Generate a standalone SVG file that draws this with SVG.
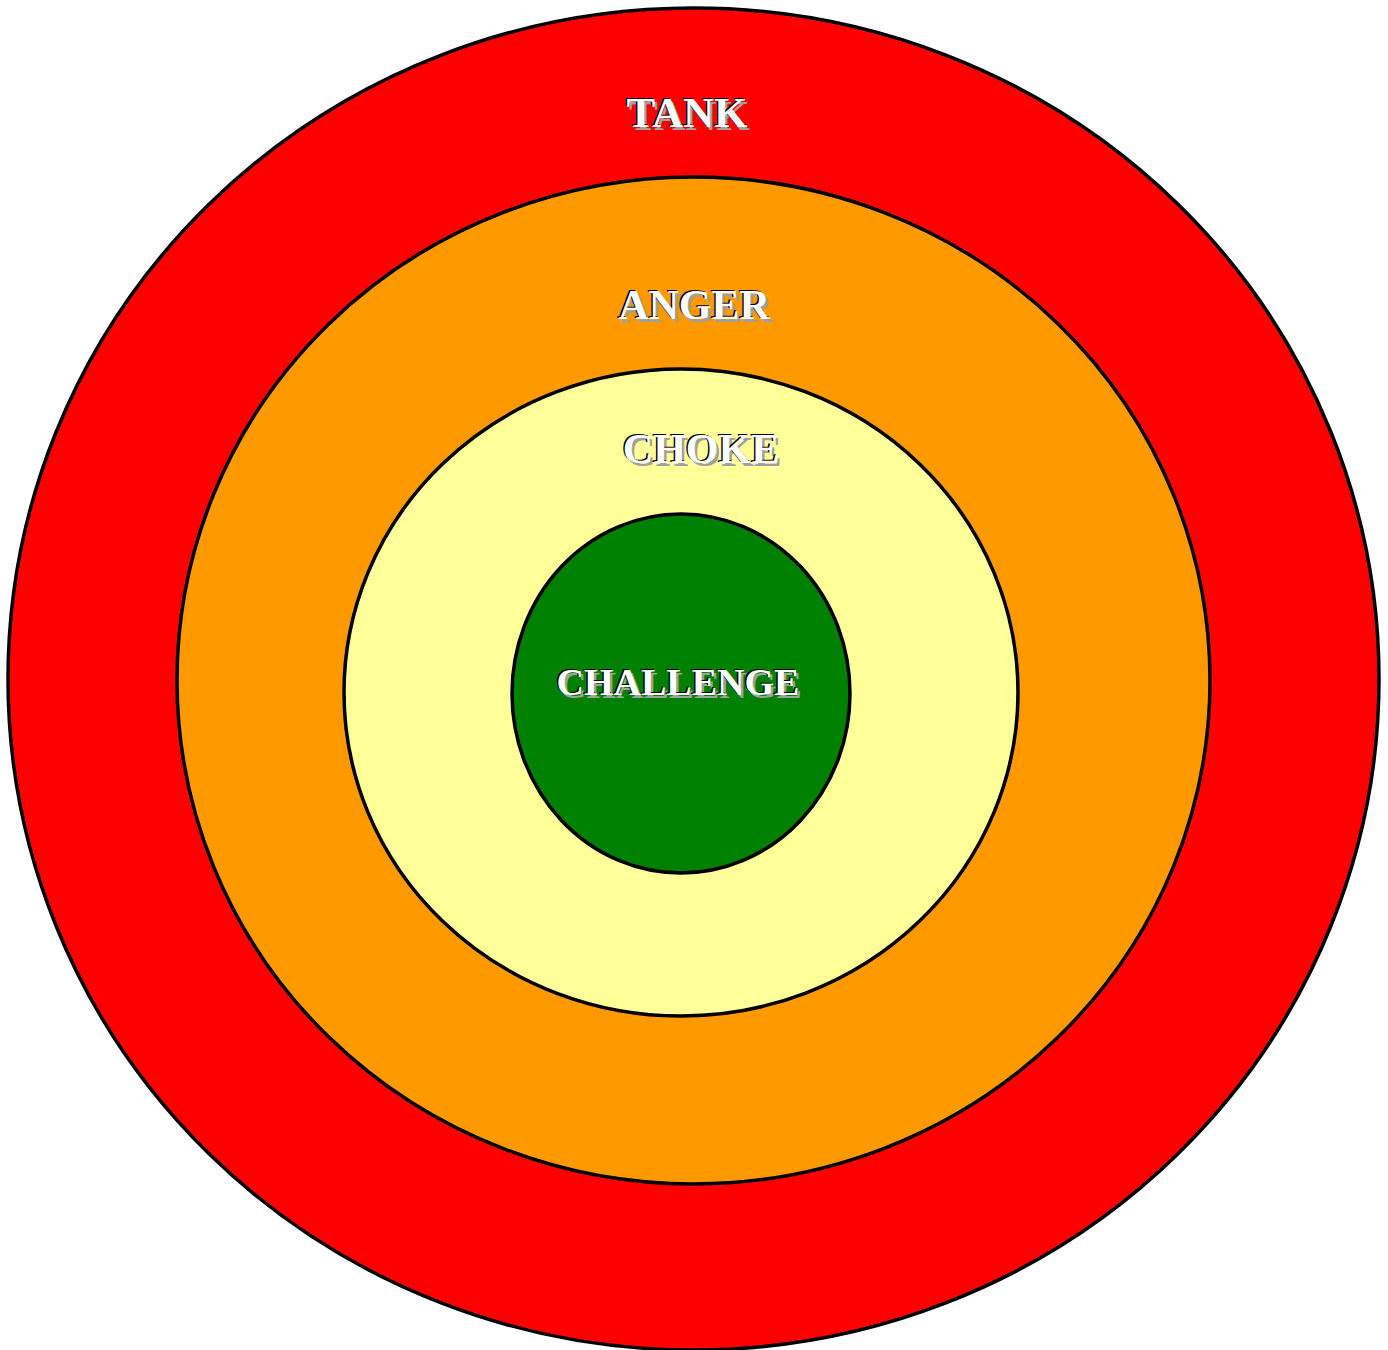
<svg xmlns="http://www.w3.org/2000/svg" width="1388" height="1350" viewBox="0 0 1388 1350">
<style>
.ring{stroke:#000;stroke-width:3.5}
.t{font-family:"Liberation Serif","Times New Roman",serif;font-weight:bold;text-anchor:middle}
.sh1{fill:#000}
.sh2{fill:#a0a0a0}
.fg{fill:#fff}
</style>
<rect width="1388" height="1350" fill="#fff"/>
<g id="tank">
<ellipse class="ring" cx="693.5" cy="679" rx="685.5" ry="671" fill="#ff0000"/>
<text class="t sh2" x="689.5" y="129.5" font-size="43">TANK</text>
<text class="t sh1" x="685.5" y="125.5" font-size="43">TANK</text>
<text class="t fg" x="687" y="127" font-size="43">TANK</text>
</g>
<g id="anger">
<ellipse class="ring" cx="693.5" cy="680.5" rx="516.5" ry="503.5" fill="#ff9900"/>
<text class="t sh2" x="696.5" y="321.5" font-size="42">ANGER</text>
<text class="t sh1" x="692.5" y="317.5" font-size="42">ANGER</text>
<text class="t fg" x="694" y="319" font-size="42">ANGER</text>
</g>
<g id="choke">
<ellipse class="ring" cx="681" cy="692.5" rx="337" ry="323.5" fill="#ffff99"/>
<text class="t sh2" x="703.5" y="465.5" font-size="42">CHOKE</text>
<text class="t sh1" x="699.5" y="461.5" font-size="42">CHOKE</text>
<text class="t fg" x="701" y="463" font-size="42">CHOKE</text>
</g>
<g id="challenge">
<ellipse class="ring" cx="681" cy="693.5" rx="169" ry="179.5" fill="#008000"/>
<text class="t sh2" x="680.5" y="697.5" font-size="38">CHALLENGE</text>
<text class="t sh1" x="676.5" y="693.5" font-size="38">CHALLENGE</text>
<text class="t fg" x="678" y="695" font-size="38">CHALLENGE</text>
</g>
<g id="connectors"/>
</svg>
